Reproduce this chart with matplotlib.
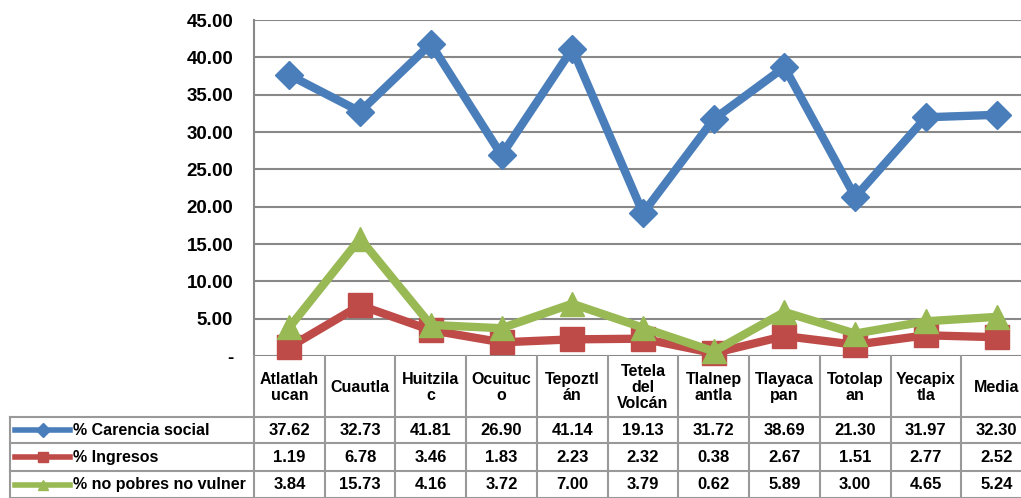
import matplotlib
matplotlib.use("Agg")
import matplotlib.pyplot as plt
import numpy as np

plt.rcParams['font.family'] = ['Liberation Sans', 'DejaVu Sans']

categories = ["Atlatlah\nucan", "Cuautla", "Huitzila\nc", "Ocuituc\no", "Tepoztl\nán",
              "Tetela\ndel\nVolcán", "Tlalnep\nantla", "Tlayaca\npan", "Totolap\nan",
              "Yecapix\ntla", "Media"]
carencia = [37.62, 32.73, 41.81, 26.90, 41.14, 19.13, 31.72, 38.69, 21.30, 31.97, 32.30]
ingresos = [1.19, 6.78, 3.46, 1.83, 2.23, 2.32, 0.38, 2.67, 1.51, 2.77, 2.52]
nopobres = [3.84, 15.73, 4.16, 3.72, 7.00, 3.79, 0.62, 5.89, 3.00, 4.65, 5.24]
series_names = ["% Carencia social", "% Ingresos", "% no pobres no vulner"]
yticks = [0, 5, 10, 15, 20, 25, 30, 35, 40, 45]
ytick_labels = ["-", "5.00", "10.00", "15.00", "20.00", "25.00", "30.00", "35.00", "40.00", "45.00"]

colors = ["#4A7EBB", "#BE4B48", "#98B954"]
markers = ["D", "s", "^"]
msizes = [14, 17, 17]
series = [carencia, ingresos, nopobres]

W, H = 1021, 498
fig = plt.figure(figsize=(W / 100, H / 100), dpi=100)

left_px, right_px, top_px, bot_px = 254, 1032, 20, 356
ax = fig.add_axes([left_px / W, (H - bot_px) / H, (right_px - left_px) / W, (bot_px - top_px) / H])
n = len(categories)
x = np.arange(n)
ax.set_xlim(-0.5, n - 0.5)
ax.set_ylim(0, 45)
ax.set_yticks(yticks)
ax.set_yticklabels(ytick_labels, fontsize=13.5, fontweight='bold')
ax.set_xticks([])
ax.tick_params(axis='y', length=0, pad=15)
for s in ["top", "right", "bottom"]:
    ax.spines[s].set_visible(False)
ax.spines["left"].set_color("#888888")
ax.spines["left"].set_linewidth(1.5)
ax.yaxis.grid(True, color="#888888", linewidth=1.5)
ax.set_axisbelow(True)

for vals, c, m, ms in zip(series, colors, markers, msizes):
    ax.plot(x, vals, color=c, linewidth=6, marker=m, markersize=ms,
            markeredgecolor=c, markerfacecolor=c, solid_joinstyle='miter', zorder=3, clip_on=False)

# Data table overlay in pixel coordinates
tab = fig.add_axes([0, 0, 1, 1])
tab.set_xlim(0, W)
tab.set_ylim(H, 0)
tab.axis('off')
tab.patch.set_alpha(0)

def col_px(v):
    return ax.transData.transform((v, 0))[0]

edges = [col_px(i - 0.5) for i in range(n + 1)]
centers = [col_px(i) for i in range(n)]
gc = "#999999"
rows_y = [417, 443, 471, 498]
table_left = 10
for e in edges:
    tab.plot([e, e], [bot_px, H], color=gc, lw=1.5)
tab.plot([table_left, table_left], [rows_y[0], H], color=gc, lw=1.5)
for yy in rows_y:
    tab.plot([table_left, edges[-1]], [yy, yy], color=gc, lw=1.5)

for cx, lab in zip(centers, categories):
    tab.text(cx, (bot_px + rows_y[0]) / 2 + 1, lab, ha='center', va='center',
             fontsize=11.5, fontweight='bold', linespacing=1.1)

for r, (vals, name, c, m) in enumerate(zip(series, series_names, colors, markers)):
    yc = (rows_y[r] + rows_y[r + 1]) / 2
    tab.plot([15, 70], [yc, yc], color=c, lw=4)
    tab.plot([43], [yc], marker=m, color=c, markersize=7)
    tab.text(73, yc, name, ha='left', va='center', fontsize=11.5, fontweight='bold')
    for cx, v in zip(centers, vals):
        tab.text(cx, yc, f"{v:.2f}", ha='center', va='center', fontsize=12, fontweight='bold')

fig.savefig("out.png", dpi=100)
